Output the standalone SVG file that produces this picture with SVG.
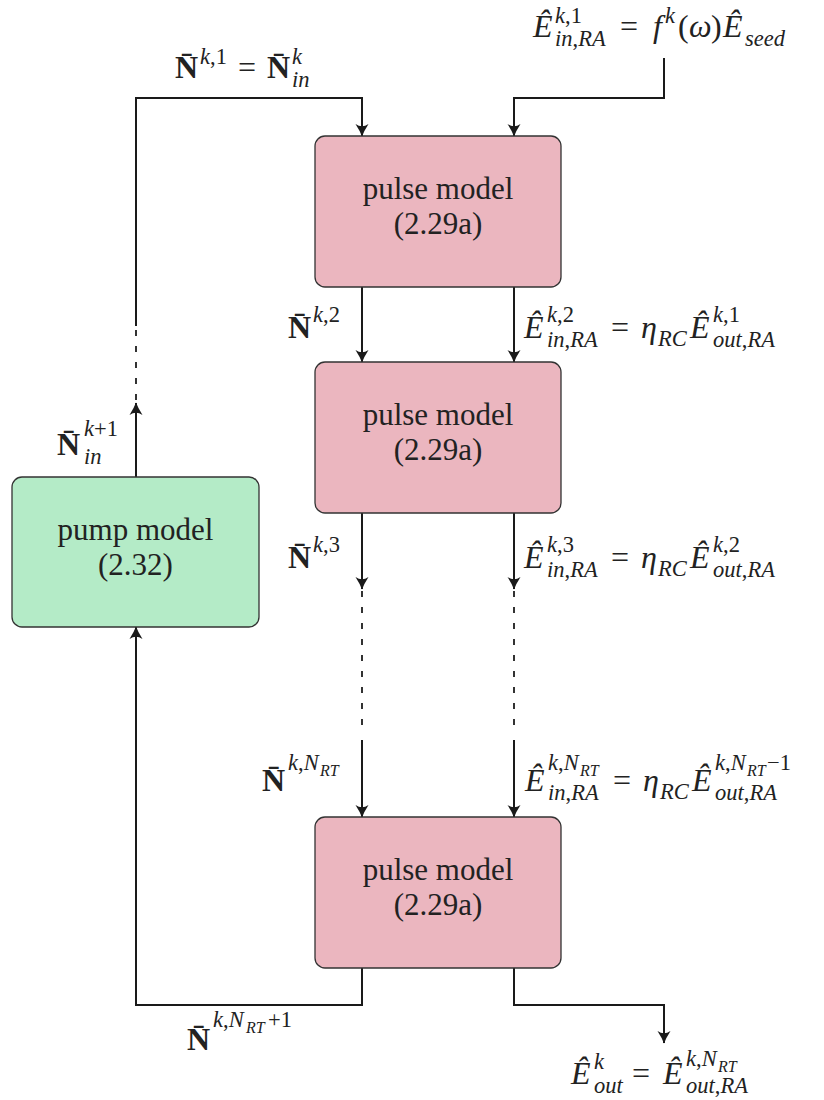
<svg xmlns="http://www.w3.org/2000/svg" width="824" height="1100" viewBox="0 0 824 1100">
  <style>
    .pulse { fill: #ebb6bf; stroke: #333; stroke-width: 1.3; }
    .pump { fill: #b4ebc7; stroke: #333; stroke-width: 1.3; }
    .wire { fill: none; stroke: #1a1a1a; stroke-width: 2; }
    .dash { fill: none; stroke: #000; stroke-width: 1.6; stroke-dasharray: 6 10; }
    .lbl { font-family: 'Liberation Serif', serif; font-size: 31px; fill: #222; text-anchor: middle; }
    .m { font-family: 'Liberation Serif', serif; font-style: italic; font-size: 32px; fill: #222; }
    .s { font-size: 22.5px; }
    .ss { font-size: 16px; }
    .u { font-style: normal; }
    .b { font-style: normal; font-weight: bold; }
  </style>
  <defs>
    <marker id="arr" markerUnits="userSpaceOnUse" markerWidth="14" markerHeight="15" viewBox="-13 -7.5 14 15" refX="0" refY="0" orient="auto">
      <path d="M0.5,0 Q-5,-2 -12,-6.5 Q-7.5,0 -12,6.5 Q-5,2 0.5,0 Z" fill="#1a1a1a"/>
    </marker>
  </defs>

  <!-- connectors -->
  <g id="connectors">
    <!-- feedback from pump model to first pulse model -->
    <path class="wire" d="M136,477 L136,403" marker-end="url(#arr)"/>
    <path class="dash" d="M136,400 L136,328"/>
    <path class="wire" d="M136,326 L136,98 L362,98 L362,136" marker-end="url(#arr)"/>
    <!-- seed input -->
    <path class="wire" d="M664,58 L664,98 L514,98 L514,136" marker-end="url(#arr)"/>
    <!-- round trip 1 to 2 -->
    <path class="wire" d="M362,287 L362,362" marker-end="url(#arr)"/>
    <path class="wire" d="M514,287 L514,362" marker-end="url(#arr)"/>
    <!-- round trip 2 to N_RT -->
    <path class="wire" d="M362,513 L362,589" marker-end="url(#arr)"/>
    <path class="dash" d="M362,591 L362,730"/>
    <path class="wire" d="M362,740 L362,817" marker-end="url(#arr)"/>
    <path class="wire" d="M514,513 L514,589" marker-end="url(#arr)"/>
    <path class="dash" d="M514,591 L514,730"/>
    <path class="wire" d="M514,740 L514,817" marker-end="url(#arr)"/>
    <!-- outputs of last pulse model -->
    <path class="wire" d="M362,968 L362,1005 L136,1005 L136,627" marker-end="url(#arr)"/>
    <path class="wire" d="M514,968 L514,1005 L664,1005 L664,1043" marker-end="url(#arr)"/>
  </g>

  <!-- nodes -->
  <g id="pulse1">
    <rect class="pulse" x="315" y="136" width="246" height="151" rx="10"/>
    <text class="lbl" x="438" y="199">pulse model</text>
    <text class="lbl" x="438" y="234">(2.29a)</text>
  </g>
  <g id="pulse2">
    <rect class="pulse" x="315" y="362" width="246" height="151" rx="10"/>
    <text class="lbl" x="438" y="425">pulse model</text>
    <text class="lbl" x="438" y="460">(2.29a)</text>
  </g>
  <g id="pulseN">
    <rect class="pulse" x="315" y="817" width="246" height="151" rx="10"/>
    <text class="lbl" x="438" y="880">pulse model</text>
    <text class="lbl" x="438" y="915">(2.29a)</text>
  </g>
  <g id="pump">
    <rect class="pump" x="12" y="477" width="247" height="150" rx="10"/>
    <text class="lbl" x="135.5" y="540">pump model</text>
    <text class="lbl" x="135.5" y="575">(2.32)</text>
  </g>

  <!-- labels -->
  <g id="labels">
    <!-- seed field -->
    <text class="m"><tspan x="533" y="37">Ê</tspan><tspan class="s" x="555" y="23">k<tspan class="u">,1</tspan></tspan><tspan class="s" x="555" y="46">in<tspan class="u">,</tspan>RA</tspan><tspan class="u" x="620" y="37">=</tspan><tspan x="653" y="37">f</tspan><tspan class="s" x="665" y="23">k</tspan><tspan class="u" x="678" y="37">(</tspan><tspan x="689" y="37">ω</tspan><tspan class="u" x="711" y="37">)</tspan><tspan x="723" y="37">Ê</tspan><tspan class="s" x="745" y="46">seed</tspan></text>
    <!-- pump state into first round trip -->
    <text class="m"><tspan class="b" x="175" y="78">N̄</tspan><tspan class="s" x="200" y="64">k<tspan class="u">,1</tspan></tspan><tspan class="u" x="238" y="78">=</tspan><tspan class="b" x="267" y="78">N̄</tspan><tspan class="s" x="292" y="64">k</tspan><tspan class="s" x="292" y="87">in</tspan></text>
    <!-- round trip 2 -->
    <text class="m"><tspan class="b" x="288" y="338">N̄</tspan><tspan class="s" x="313" y="322">k<tspan class="u">,2</tspan></tspan></text>
    <text class="m"><tspan x="524" y="338">Ê</tspan><tspan class="s" x="547" y="322">k<tspan class="u">,2</tspan></tspan><tspan class="s" x="547" y="347">in<tspan class="u">,</tspan>RA</tspan><tspan class="u" x="611" y="338">=</tspan><tspan x="641" y="338">η</tspan><tspan class="s" x="658" y="346">RC</tspan><tspan x="690" y="338">Ê</tspan><tspan class="s" x="713" y="322">k<tspan class="u">,1</tspan></tspan><tspan class="s" x="713" y="347">out<tspan class="u">,</tspan>RA</tspan></text>
    <!-- round trip 3 -->
    <text class="m"><tspan class="b" x="288" y="568">N̄</tspan><tspan class="s" x="313" y="552">k<tspan class="u">,3</tspan></tspan></text>
    <text class="m"><tspan x="524" y="568">Ê</tspan><tspan class="s" x="547" y="552">k<tspan class="u">,3</tspan></tspan><tspan class="s" x="547" y="577">in<tspan class="u">,</tspan>RA</tspan><tspan class="u" x="611" y="568">=</tspan><tspan x="641" y="568">η</tspan><tspan class="s" x="658" y="576">RC</tspan><tspan x="690" y="568">Ê</tspan><tspan class="s" x="713" y="552">k<tspan class="u">,2</tspan></tspan><tspan class="s" x="713" y="577">out<tspan class="u">,</tspan>RA</tspan></text>
    <!-- round trip N_RT -->
    <text class="m"><tspan class="b" x="262" y="791">N̄</tspan><tspan class="s" x="288" y="770">k<tspan class="u">,</tspan>N</tspan><tspan class="ss" x="320" y="776">RT</tspan></text>
    <text class="m"><tspan x="525" y="791">Ê</tspan><tspan class="s" x="548" y="770">k<tspan class="u">,</tspan>N</tspan><tspan class="ss" x="580" y="776">RT</tspan><tspan class="s" x="548" y="800">in<tspan class="u">,</tspan>RA</tspan><tspan class="u" x="613" y="791">=</tspan><tspan x="643" y="791">η</tspan><tspan class="s" x="660" y="799">RC</tspan><tspan x="692" y="791">Ê</tspan><tspan class="s" x="715" y="770">k<tspan class="u">,</tspan>N</tspan><tspan class="ss" x="747" y="776">RT</tspan><tspan class="s u" x="767" y="770">−1</tspan><tspan class="s" x="715" y="800">out<tspan class="u">,</tspan>RA</tspan></text>
    <!-- pump state after the last round trip -->
    <text class="m"><tspan class="b" x="187" y="1050">N̄</tspan><tspan class="s" x="213" y="1027">k<tspan class="u">,</tspan>N</tspan><tspan class="ss" x="246" y="1033">RT</tspan><tspan class="s u" x="268" y="1027">+1</tspan></text>
    <!-- pump state fed back -->
    <text class="m"><tspan class="b" x="57" y="455">N̄</tspan><tspan class="s" x="84" y="436">k<tspan class="u">+1</tspan></tspan><tspan class="s" x="84" y="464">in</tspan></text>
    <!-- output field -->
    <text class="m"><tspan x="571" y="1084">Ê</tspan><tspan class="s" x="594" y="1069">k</tspan><tspan class="s" x="594" y="1093">out</tspan><tspan class="u" x="632" y="1084">=</tspan><tspan x="663" y="1084">Ê</tspan><tspan class="s" x="686" y="1066">k<tspan class="u">,</tspan>N</tspan><tspan class="ss" x="718" y="1072">RT</tspan><tspan class="s" x="686" y="1093">out<tspan class="u">,</tspan>RA</tspan></text>
  </g>
</svg>
